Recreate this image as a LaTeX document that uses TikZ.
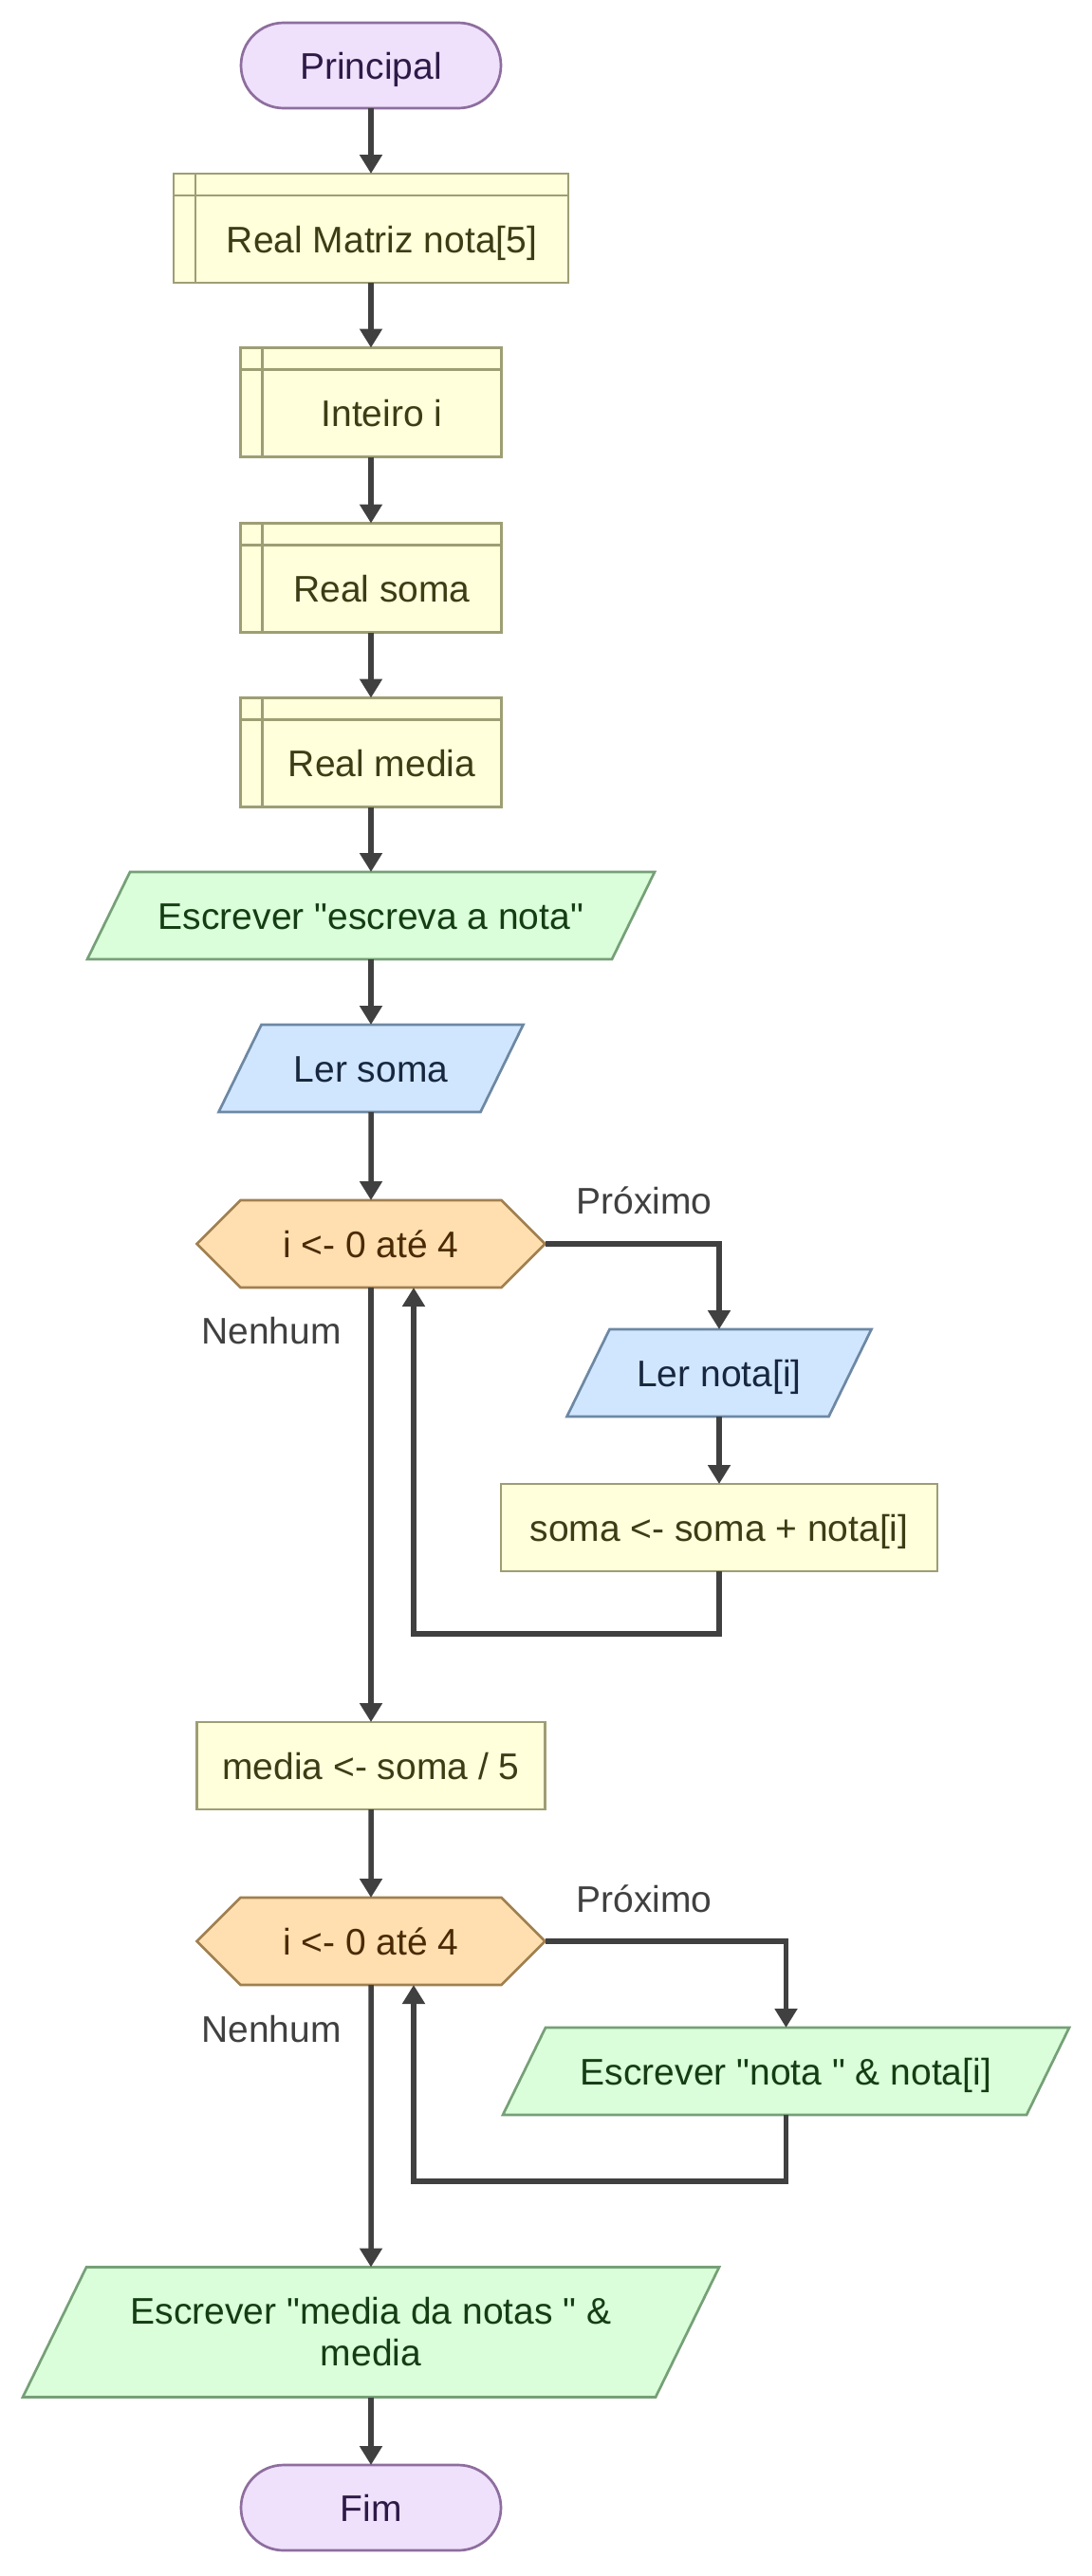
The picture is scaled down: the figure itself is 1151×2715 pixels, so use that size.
\documentclass[tikz,border=0pt]{standalone}
\usepackage{fontspec}
\newfontfamily\flowfont{Liberation Sans}
\usetikzlibrary{arrows.meta,shapes.symbols,backgrounds}

\definecolor{termfill}{HTML}{EFE0FC}
\definecolor{termline}{HTML}{8E6E9E}
\definecolor{termtext}{HTML}{2E1A47}
\definecolor{declfill}{HTML}{FFFFDC}
\definecolor{declline}{HTML}{9E9E74}
\definecolor{decltext}{HTML}{3D3D15}
\definecolor{outfill}{HTML}{D9FED9}
\definecolor{outline}{HTML}{76A077}
\definecolor{outtext}{HTML}{143D14}
\definecolor{infill}{HTML}{D0E6FF}
\definecolor{inline}{HTML}{6D88A3}
\definecolor{intext}{HTML}{17273F}
\definecolor{loopfill}{HTML}{FFDFAF}
\definecolor{loopline}{HTML}{A18050}
\definecolor{looptext}{HTML}{4A2A05}
\definecolor{arrowc}{HTML}{404040}

% slanted (parallelogram) outline behind a text node: node, style, skew
\newcommand{\slantbox}[3]{%
  \path[#2] ([xshift=#3]#1.north west) -- (#1.north east)
    -- ([xshift=-#3]#1.south east) -- (#1.south west) -- cycle;}

\tikzset{
  txt/.style={font=\flowfont\fontsize{19.5}{22}\selectfont, inner sep=0pt,
    outer sep=0pt, align=center, text height=16pt, text depth=2pt},
  box/.style={txt, draw, line width=1.35pt, minimum height=46pt},
  term/.style={box, rounded corners=22.5pt, fill=termfill, draw=termline,
    text=termtext, minimum width=137pt, minimum height=45pt},
  proc/.style={box, fill=declfill, draw=declline, text=decltext, minimum width=183.5pt},
  decl/.style={proc, minimum width=137.5pt, minimum height=57.5pt,
    text height=27.5pt, text depth=2pt, execute at begin node=\hspace*{11.5pt},
    path picture={
      \draw[line width=1.35pt, declline]
        ([xshift=11.5pt]path picture bounding box.north west) --
        ([xshift=11.5pt]path picture bounding box.south west);
      \draw[line width=1.35pt, declline]
        ([yshift=-11.5pt]path picture bounding box.north west) --
        ([yshift=-11.5pt]path picture bounding box.north east);
    }},
  outp/.style={txt, text=outtext, minimum height=46pt},
  inp/.style={txt, text=intext, minimum height=46pt, minimum width=160.5pt},
  outshape/.style={fill=outfill, draw=outline, line width=1.35pt},
  inshape/.style={fill=infill, draw=inline, line width=1.35pt},
  loopbox/.style={box, signal, signal to=east and west, signal pointer angle=90,
    fill=loopfill, draw=loopline, text=looptext, minimum width=183.5pt},
  lbl/.style={txt, text=arrowc},
  arr/.style={-{Triangle[width=11.5pt,length=10pt]}, line width=2.75pt, draw=arrowc}
}

\begin{document}
\begin{tikzpicture}[x=0.5pt, y=-0.5pt]
\useasboundingbox (0,0) rectangle (1151,2715);

% main column
\node[term] (start) at (391,69) {Principal};
\node[decl, minimum width=208pt] (vnota) at (391,240.5) {Real Matriz nota[5]};
\node[decl] (vi) at (391,424) {Inteiro i};
\node[decl] (vsoma) at (391,609) {Real soma};
\node[decl] (vmedia) at (391,793) {Real media};
\node[outp, minimum width=299pt] (w1) at (391,965) {Escrever "escreva a nota"};
\node[inp] (r1) at (391,1126) {Ler soma};
\node[loopbox] (for1) at (391,1311) {i <- 0 até 4};

% first loop body
\node[inp] (r2) at (758,1447) {Ler nota[i]};
\node[proc, minimum width=230pt] (acc) at (758,1610) {soma <- soma + nota[i]};
\coordinate (back1) at (436,1722);

\node[proc] (avg) at (391,1861) {media <- soma / 5};
\node[loopbox] (for2) at (391,2046) {i <- 0 até 4};

% second loop body
\node[outp, minimum width=298.5pt] (w2) at (828.5,2183) {Escrever "nota " \& nota[i]};
\coordinate (back2) at (436,2299);

\node[outp, minimum width=367pt, minimum height=68.5pt, text height={}, text depth={}]
  (w3) at (391,2458) {Escrever "media da notas " \&\\media};
\node[term] (stop) at (391,2643) {Fim};

% parallelogram outlines
\begin{pgfonlayer}{background}
\slantbox{w1}{outshape}{22.5pt}
\slantbox{r1}{inshape}{22.5pt}
\slantbox{r2}{inshape}{22.5pt}
\slantbox{w2}{outshape}{22.5pt}
\slantbox{w3}{outshape}{33.5pt}
\end{pgfonlayer}

% loop labels
\node[lbl] (next1) at (679,1265) {Próximo};
\node[lbl] (none1) at (286,1402) {Nenhum};
\node[lbl] (next2) at (679,2001) {Próximo};
\node[lbl] (none2) at (286,2138) {Nenhum};

% connectors
\draw[arr] (start) -- (vnota);
\draw[arr] (vnota) -- (vi);
\draw[arr] (vi) -- (vsoma);
\draw[arr] (vsoma) -- (vmedia);
\draw[arr] (vmedia) -- (w1);
\draw[arr] (w1) -- (r1);
\draw[arr] (r1) -- (for1);
\draw[arr] (for1.east) -| (r2.north);
\draw[arr] (r2) -- (acc);
\draw[arr] (acc.south) |- (back1) -- (back1 |- for1.south);
\draw[arr] (for1) -- (avg);
\draw[arr] (avg) -- (for2);
\draw[arr] (for2.east) -| (w2.north);
\draw[arr] (w2.south) |- (back2) -- (back2 |- for2.south);
\draw[arr] (for2) -- (w3);
\draw[arr] (w3) -- (stop);
\end{tikzpicture}
\end{document}
